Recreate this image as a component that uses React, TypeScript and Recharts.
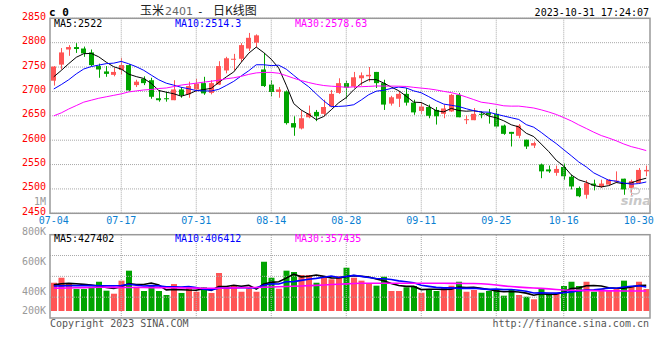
import React from "react";
import {
  ComposedChart, Bar, Line, XAxis, YAxis, CartesianGrid, ReferenceLine, Cell,
} from "recharts";

const dates = [
  "07-04", "07-05", "07-06", "07-07", "07-10", "07-11", "07-12", "07-13", "07-14", "07-17",
  "07-18", "07-19", "07-20", "07-21", "07-24", "07-25", "07-26", "07-27", "07-28", "07-31",
  "08-01", "08-02", "08-03", "08-04", "08-07", "08-08", "08-09", "08-10", "08-11", "08-14",
  "08-15", "08-16", "08-17", "08-18", "08-21", "08-22", "08-23", "08-24", "08-25", "08-28",
  "08-29", "08-30", "08-31", "09-01", "09-04", "09-05", "09-06", "09-07", "09-08", "09-11",
  "09-12", "09-13", "09-14", "09-15", "09-18", "09-19", "09-20", "09-21", "09-22", "09-25",
  "09-26", "09-27", "09-28", "10-09", "10-10", "10-11", "10-12", "10-13", "10-16", "10-17",
  "10-18", "10-19", "10-20", "10-23", "10-24", "10-25", "10-26", "10-27", "10-30", "10-31",
];

const opens = [
  2722, 2755, 2786, 2791, 2788, 2780, 2752, 2741, 2734, 2744,
  2754, 2713, 2726, 2723, 2686, 2686, 2682, 2704, 2694, 2704,
  2717, 2697, 2714, 2743, 2766, 2767, 2788, 2800, 2745, 2714,
  2699, 2700, 2635, 2624, 2647, 2658, 2654, 2669, 2697, 2717,
  2710, 2727, 2731, 2740, 2717, 2675, 2685, 2695, 2677, 2660,
  2668, 2662, 2654, 2659, 2693, 2642, 2641, 2654, 2656, 2654,
  2630, 2617, 2609, 2601, 2589, 2550, 2540, 2533, 2545, 2525,
  2502, 2488, 2511, 2504, 2509, 2516, 2521, 2502, 2512, 2536,
];
const highs = [
  2752, 2789, 2795, 2799, 2792, 2786, 2757, 2752, 2748, 2769,
  2756, 2724, 2731, 2728, 2702, 2699, 2723, 2709, 2720, 2726,
  2730, 2723, 2762, 2771, 2777, 2799, 2820, 2817, 2779, 2723,
  2709, 2702, 2649, 2661, 2671, 2662, 2683, 2703, 2727, 2722,
  2740, 2739, 2750, 2740, 2724, 2691, 2700, 2707, 2683, 2678,
  2673, 2668, 2673, 2695, 2697, 2651, 2666, 2659, 2664, 2664,
  2632, 2617, 2633, 2601, 2597, 2552, 2548, 2548, 2552, 2529,
  2505, 2518, 2519, 2519, 2520, 2536, 2521, 2519, 2543, 2548,
];
const lows = [
  2712, 2745, 2773, 2779, 2771, 2752, 2728, 2730, 2731, 2735,
  2700, 2709, 2713, 2685, 2679, 2679, 2682, 2687, 2687, 2699,
  2693, 2694, 2713, 2737, 2743, 2760, 2783, 2790, 2709, 2690,
  2687, 2632, 2609, 2622, 2645, 2639, 2649, 2668, 2695, 2684,
  2707, 2712, 2720, 2707, 2662, 2671, 2668, 2671, 2652, 2654,
  2645, 2632, 2645, 2658, 2647, 2633, 2641, 2645, 2634, 2626,
  2611, 2587, 2604, 2582, 2584, 2522, 2533, 2527, 2519, 2499,
  2483, 2480, 2497, 2502, 2507, 2512, 2488, 2488, 2511, 2526,
];
const closes = [
  2751, 2780, 2791, 2787, 2778, 2754, 2745, 2736, 2740, 2754,
  2702, 2720, 2717, 2689, 2682, 2684, 2704, 2692, 2711, 2716,
  2696, 2717, 2752, 2768, 2767, 2795, 2810, 2815, 2711, 2699,
  2704, 2635, 2626, 2645, 2655, 2649, 2668, 2695, 2717, 2708,
  2729, 2733, 2734, 2717, 2673, 2688, 2695, 2677, 2657, 2669,
  2650, 2649, 2665, 2693, 2647, 2643, 2654, 2652, 2652, 2628,
  2613, 2613, 2630, 2587, 2594, 2536, 2536, 2541, 2526, 2505,
  2485, 2512, 2507, 2511, 2519, 2517, 2499, 2516, 2539, 2539,
];

const ma5 = [
  2730, 2743, 2757, 2770, 2777.4, 2778, 2771, 2760, 2750.6, 2745.8,
  2735.4, 2730.4, 2726.6, 2716.4, 2702, 2698.4, 2695.2, 2690.2, 2694.6, 2701.4,
  2703.8, 2706.4, 2718.4, 2729.8, 2740, 2759.8, 2778.4, 2791, 2779.6, 2766,
  2747.8, 2712.8, 2675, 2661.8, 2653, 2642, 2648.6, 2662.4, 2676.8, 2687.4,
  2703.4, 2716.4, 2724.2, 2724.2, 2717.2, 2709, 2701.4, 2690, 2678, 2677.2,
  2669.6, 2660.4, 2658, 2665.2, 2660.8, 2659.4, 2660.4, 2657.8, 2649.6, 2645.8,
  2639.8, 2631.6, 2627.2, 2614.2, 2607.4, 2592, 2576.6, 2558.8, 2546.6, 2528.8,
  2518.6, 2513.8, 2507, 2504, 2506.8, 2513.2, 2510.6, 2512.4, 2518, 2522,
];
const ma10 = [
  2705, 2714, 2724, 2736, 2746, 2751, 2754, 2757, 2758, 2761.6,
  2756.7, 2750.7, 2743.3, 2733.5, 2723.9, 2716.9, 2712.8, 2708.4, 2705.5, 2701.7,
  2701.1, 2700.8, 2704.3, 2712.2, 2720.7, 2731.8, 2742.4, 2754.7, 2754.7, 2753,
  2753.8, 2745.6, 2733, 2720.7, 2709.5, 2694.9, 2680.7, 2668.7, 2669.3, 2670.2,
  2672.7, 2682.5, 2693.3, 2700.5, 2702.3, 2706.2, 2708.9, 2707.1, 2701.1, 2697.2,
  2689.3, 2680.9, 2674, 2671.6, 2669, 2664.5, 2660.4, 2657.9, 2657.4, 2653.3,
  2649.6, 2646, 2642.5, 2631.9, 2626.6, 2615.9, 2604.1, 2593, 2580.4, 2568.1,
  2555.3, 2545.2, 2532.9, 2525.3, 2517.8, 2515.9, 2512.2, 2509.7, 2511, 2514.3,
];
const ma30 = [
  2650, 2656, 2664, 2671, 2678, 2682, 2686, 2689, 2692, 2695,
  2699, 2701, 2703, 2704, 2706, 2707, 2710, 2713, 2715, 2717,
  2719, 2721, 2723, 2726, 2728, 2731, 2735, 2738, 2739, 2739,
  2737.3, 2732.5, 2727, 2722.3, 2718.2, 2714.7, 2712.1, 2710.7, 2709.9, 2708.4,
  2709.3, 2709.7, 2710.3, 2711.2, 2710.9, 2711, 2710.7, 2710.2, 2708.4, 2706.8,
  2705.3, 2703, 2700.1, 2697.6, 2693.6, 2688.5, 2683.3, 2677.9, 2675.9, 2673.5,
  2670.5, 2669.8, 2669.9, 2668, 2666, 2662.2, 2657.8, 2652.7, 2646.3, 2639.5,
  2631.4, 2624, 2616.4, 2609.5, 2604.4, 2598.7, 2592.2, 2586.8, 2582.9, 2578.63,
];

// volume, in thousands of lots
const volumes = [
  458, 519, 451, 381, 381, 409, 470, 361, 324, 483,
  605, 409, 357, 422, 357, 308, 442, 333, 402, 348,
  402, 333, 577, 402, 418, 348, 385, 348, 714, 519,
  385, 605, 589, 552, 552, 458, 524, 500, 540, 641,
  519, 483, 451, 422, 531, 357, 357, 402, 418, 336,
  378, 357, 397, 422, 470, 348, 369, 336, 357, 381,
  300, 378, 308, 287, 256, 390, 329, 329, 418, 470,
  418, 470, 348, 381, 369, 381, 483, 418, 470, 381,
];
const volMa5 = [
  432, 445, 450, 445, 438, 428.2, 418.4, 400.4, 389, 409.4,
  448.6, 436.4, 435.6, 455.2, 430, 370.6, 377.2, 372.4, 368.4, 366.6,
  385.4, 363.6, 412.4, 412.4, 426.4, 415.6, 426, 380.2, 442.6, 462.8,
  470.2, 514.2, 562.4, 530, 536.6, 551.2, 535, 517.2, 514.8, 532.6,
  544.8, 536.6, 526.8, 503.2, 481.2, 448.8, 423.6, 413.8, 413, 374,
  378.2, 378.2, 377.2, 378, 404.8, 398.8, 401.2, 389, 376, 358.2,
  348.6, 350.4, 344.8, 330.8, 305.8, 323.8, 314, 318.2, 344.4, 387.2,
  392.8, 421, 424.8, 417.4, 397.2, 389.8, 392.4, 406.4, 424.2, 427.4,
];
const volMa10 = [
  418, 420, 421, 422, 422, 422, 421, 420, 420, 423.7,
  438.4, 427.4, 418, 422.1, 419.7, 409.6, 406.8, 404, 411.8, 398.3,
  378, 370.4, 392.4, 390.4, 396.5, 400.5, 394.8, 396.3, 427.5, 444.6,
  442.9, 470.1, 471.3, 486.3, 499.7, 510.7, 524.6, 539.8, 522.4, 534.6,
  548, 535.8, 522, 509, 506.9, 496.8, 480.1, 470.3, 458.1, 427.6,
  413.5, 400.9, 395.5, 395.5, 389.4, 388.5, 389.7, 383.1, 377, 381.5,
  373.7, 375.8, 366.9, 353.4, 332, 336.2, 332.2, 331.5, 337.6, 346.5,
  358.3, 367.5, 371.5, 380.9, 392.2, 391.3, 406.7, 415.6, 420.8, 406.4,
];
const volMa30 = [
  390, 392, 394, 396, 398, 400, 402, 402, 401, 401,
  400, 400, 399, 398, 398, 397, 396, 395, 394, 392,
  391, 390, 391, 393, 395, 397, 399, 400, 402, 405,
  409, 412, 415, 418, 422, 426, 431, 436, 440, 444,
  448, 451, 452, 452, 452, 452, 451, 451, 451, 451,
  451, 451, 451, 450, 450, 449, 448, 446, 440, 430,
  420, 411, 404, 398, 393, 389, 383, 375, 369, 367,
  365, 363, 361, 360, 359, 358, 357, 357, 357, 357.4,
];

const dateTicks = ["07-04", "07-17", "07-31", "08-14", "08-28", "09-11", "09-25", "10-16", "10-30"];
const gridDates = ["07-17", "07-31", "08-14", "08-28", "09-11", "09-25", "10-16"];
const priceTicks = [2450, 2500, 2550, 2600, 2650, 2700, 2750, 2800, 2850];
const volLabelTicks = [200, 400, 600, 800, 1000];

const RED = "#ff5555";
const GREEN = "#00a400";
const GRID = "#a8a8a8";
const MONO = "DejaVu Sans Mono";

// volume bars stand on this value, not on zero
const VOL_BASE = 113;

const rows = dates.map((date, i) => ({
  date,
  open: opens[i],
  high: highs[i],
  low: lows[i],
  close: closes[i],
  range: [lows[i], highs[i]],
  ma5: ma5[i],
  ma10: ma10[i],
  ma30: ma30[i],
  vol: [VOL_BASE, volumes[i]],
  vma5: volMa5[i],
  vma10: volMa10[i],
  vma30: volMa30[i],
}));

function Candle(props: any) {
  const { x, y, width, height, payload } = props;
  const { open, close, high, low } = payload;
  const color = close >= open ? RED : GREEN;
  const pxPerUnit = height / Math.max(high - low, 1);
  const bodyTop = y + (high - Math.max(open, close)) * pxPerUnit;
  const bodyH = Math.max(Math.abs(close - open) * pxPerUnit, 1);
  const cx = Math.round(x + width / 2) + 0.5;
  return (
    <g>
      <line x1={cx} x2={cx} y1={y} y2={y + height} stroke={color} strokeWidth={1} />
      <rect x={Math.round(x)} y={bodyTop} width={width} height={bodyH} fill={color} />
    </g>
  );
}

function PriceTick({ x, y, payload }: any) {
  return (
    <text x={x} y={y + 1.5} textAnchor="end" fill="#f00" fontSize={10} fontFamily={MONO}>
      {payload.value}
    </text>
  );
}

function VolTick({ x, y, payload }: any) {
  const v = payload.value;
  return (
    <text x={x} y={Math.min(y, 120) + 3.6} textAnchor="end" fill="#999" fontSize={10} fontFamily={MONO}>
      {v >= 1000 ? "1M" : `${v}K`}
    </text>
  );
}

const gridLine = { stroke: GRID, strokeDasharray: "1 1", strokeWidth: 1 };

export default function App() {
  return (
    <div style={{ position: "absolute", left: 0, top: 0, width: 660, height: 360, background: "#fff", overflow: "hidden" }}>
      {/* price pane */}
      <div style={{ position: "absolute", left: 0, top: 0 }}>
        <ComposedChart width={660} height={232} data={rows} margin={{ top: 18.3, right: 10, bottom: 0, left: 0 }}>
          <CartesianGrid vertical={false} stroke={GRID} strokeDasharray="1 1" />
          <XAxis
            dataKey="date"
            ticks={dateTicks}
            interval={0}
            height={18.7}
            tickLine={false}
            axisLine={false}
            tickSize={2}
            tickMargin={2}
            tick={{ fill: "#0a7fd2", fontSize: 10, fontFamily: MONO }}
          />
          <YAxis
            domain={[2450, 2850]}
            ticks={priceTicks}
            interval={0}
            allowDataOverflow
            width={50}
            tickLine={false}
            axisLine={false}
            tickSize={2}
            tickMargin={2}
            tick={<PriceTick />}
          />
          {gridDates.map((d) => (
            <ReferenceLine key={d} x={d} {...gridLine} />
          ))}
          <Bar dataKey="range" barSize={5} shape={<Candle />} isAnimationActive={false} />
          <Line dataKey="ma5" stroke="#000" strokeWidth={1} dot={false} type="linear" isAnimationActive={false} />
          <Line dataKey="ma10" stroke="#0000ff" strokeWidth={1} dot={false} type="linear" isAnimationActive={false} />
          <Line dataKey="ma30" stroke="#ff00ff" strokeWidth={1} dot={false} type="linear" isAnimationActive={false} />
        </ComposedChart>
      </div>

      {/* volume pane */}
      <div style={{ position: "absolute", left: 0, top: 190 }}>
        <ComposedChart width={660} height={140} data={rows} margin={{ top: 44.7, right: 10, bottom: 12, left: 0 }}>
          <XAxis dataKey="date" hide />
          <YAxis yAxisId="v" hide domain={[27.6, 1043.9]} allowDataOverflow />
          <YAxis yAxisId="q" hide domain={[0, 4]} allowDataOverflow />
          <YAxis
            yAxisId="lbl"
            domain={[220, 775.3]}
            ticks={volLabelTicks}
            interval={0}
            allowDataOverflow
            width={50}
            tickLine={false}
            axisLine={false}
            tickSize={2}
            tickMargin={2}
            tick={<VolTick />}
          />
          {gridDates.map((d) => (
            <ReferenceLine key={d} x={d} yAxisId="v" {...gridLine} />
          ))}
          {[1, 2, 3].map((q) => (
            <ReferenceLine key={q} y={q} yAxisId="q" {...gridLine} />
          ))}
          <Bar yAxisId="v" dataKey="vol" barSize={6} isAnimationActive={false}>
            {rows.map((r) => (
              <Cell key={r.date} fill={r.close >= r.open ? RED : GREEN} />
            ))}
          </Bar>
          <Line yAxisId="v" dataKey="vma5" stroke="#000" strokeWidth={1.6} dot={false} type="linear" isAnimationActive={false} />
          <Line yAxisId="v" dataKey="vma10" stroke="#0000ff" strokeWidth={1.6} dot={false} type="linear" isAnimationActive={false} />
          <Line yAxisId="v" dataKey="vma30" stroke="#ff00ff" strokeWidth={1.6} dot={false} type="linear" isAnimationActive={false} />
        </ComposedChart>
      </div>

      {/* frames, titles and captions */}
      <svg width={660} height={360} style={{ position: "absolute", left: 0, top: 0, pointerEvents: "none" }}>
        <rect x={50} y={18.3} width={600} height={195} fill="none" stroke="#999" strokeWidth={1.5} />
        <rect x={50} y={234.7} width={600} height={83.3} fill="none" stroke="#999" strokeWidth={1.5} />

        <text x={49} y={16} fontFamily={MONO} fontSize={11} fontWeight="bold" fill="#000">c 0</text>
        <text x={140} y={14.5} fontFamily="Noto Sans CJK SC" fontSize={12} fill="#222">玉米</text>
        <text x={165} y={14.5} fontFamily="DejaVu Sans" fontSize={11} fill="#666">2401</text>
        <text x={197} y={14.5} fontFamily={MONO} fontSize={11} fill="#222">-</text>
        <text x={213} y={14.5} fontFamily="Noto Sans CJK SC" fontSize={12} fill="#222">日K线图</text>
        <text x={649} y={15.5} textAnchor="end" fontFamily={MONO} fontSize={10} fill="#000">
          2023-10-31 17:24:07
        </text>

        <text x={54} y={27} fontFamily={MONO} fontSize={10} fill="#000">MA5:{ma5[79]}</text>
        <text x={175} y={27} fontFamily={MONO} fontSize={10} fill="#0000ff">MA10:{ma10[79]}</text>
        <text x={295} y={27} fontFamily={MONO} fontSize={10} fill="#ff00ff">MA30:{ma30[79]}</text>

        <text x={54} y={242} fontFamily={MONO} fontSize={10} fill="#000">MA5:427402</text>
        <text x={175} y={242} fontFamily={MONO} fontSize={10} fill="#0000ff">MA10:406412</text>
        <text x={295} y={242} fontFamily={MONO} fontSize={10} fill="#ff00ff">MA30:357435</text>

        <ellipse cx={635} cy={191} rx={4.5} ry={3} fill="none" stroke="#c8c8c8" strokeWidth={1.5} />
        <text x={651} y={205} textAnchor="end" fontFamily="DejaVu Sans" fontStyle="italic" fontWeight="bold" fontSize={13} fill="#c8c8c8">sina</text>

        <text x={50} y={327} fontFamily={MONO} fontSize={10} fill="#555">Copyright 2023 SINA.COM</text>
        <text x={649} y={327} textAnchor="end" fontFamily={MONO} fontSize={10} fill="#555">http://finance.sina.com.cn</text>
      </svg>
    </div>
  );
}
